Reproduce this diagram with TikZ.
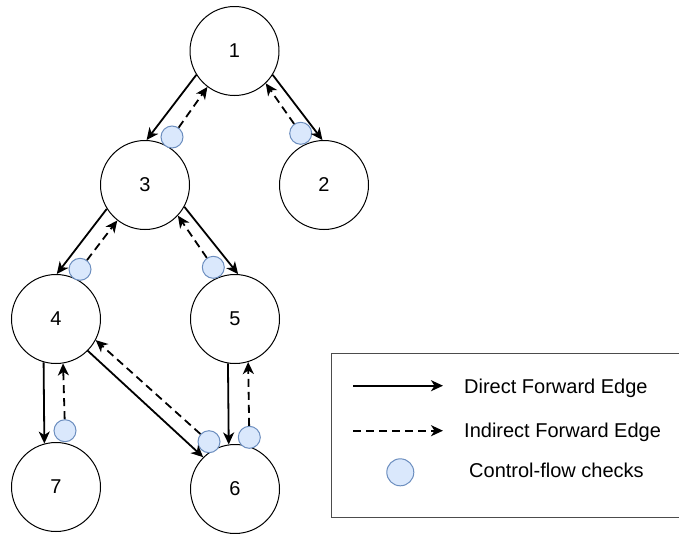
\documentclass[tikz,border=0pt]{standalone}
\usepackage{fontspec}
\setmainfont{Liberation Sans}
\usetikzlibrary{arrows.meta}
\definecolor{checkfill}{HTML}{DAE8FC}
\definecolor{checkline}{HTML}{6C8EBF}

\begin{document}
\begin{tikzpicture}[x=1pt, y=-1pt,
		block/.style={draw, circle, line width=1pt, minimum size=89pt, inner sep=0pt, font=\fontsize{20}{24}\selectfont},
		check/.style={draw=checkline, fill=checkfill, circle, line width=1pt, minimum size=22pt, inner sep=0pt},
		direct/.style={line width=1.8pt, -{Stealth[length=12pt, width=11pt, inset=3.5pt]}},
		indirect/.style={direct, dash pattern=on 8pt off 5pt},
		legtext/.style={anchor=base west, inner sep=0pt, font=\fontsize{20}{24}\selectfont}]
		\useasboundingbox (0,0) rectangle (679,533);
		\clip (0,0) rectangle (679,533);
		
		% blocks
		\node[block] (n1) at (234.5, 51) {1};
		\node[block] (n2) at (324, 185) {2};
		\node[block] (n3) at (145, 185) {3};
		\node[block] (n4) at (56, 319) {4};
		\node[block] (n5) at (235, 319) {5};
		\node[block] (n7) at (56, 487) {7};
		\node[block] (n6) at (235, 489) {6};
		
		% control-flow checks
		\node[check] (c13) at (172, 137) {};
		\node[check] (c12) at (300.7, 133.3) {};
		\node[check] (c34) at (80, 269.3) {};
		\node[check] (c35) at (213.3, 267.3) {};
		\node[check] (c47) at (65, 430.7) {};
		\node[check] (c46) at (209, 441.7) {};
		\node[check] (c56) at (249.3, 437.3) {};
		
		% direct forward edges
		\draw[direct] (n1.212) -- (n3.88);
		\draw[direct] (n1.-32) -- (n2.92);
		\draw[direct] (n3.212) -- (n4.89);
		\draw[direct] (n3.-29) -- (n5.86);
		\draw[direct] (n4.254) -- (n7.105);
		\draw[direct] (n4.-45) -- (n6.135);
		\draw[direct] (n5.261) -- (n6.98);
		
		% indirect forward edges
		\draw[indirect] (c13) -- (n1.233);
		\draw[indirect] (c12) -- (n1.-46);
		\draw[indirect] (c34) -- (n3.232);
		\draw[indirect] (c35) -- (n3.-43);
		\draw[indirect] (c47) -- (n4.-81);
		\draw[indirect] (c46) -- (n4.-28);
		\draw[indirect] (c56) -- (n5.-73);
		
		% legend
		\draw[line width=1.3pt, black!70] (331.7, 353.3) rectangle (700, 517.3);
		\coordinate (d1) at (353, 385.7);
		\coordinate (d2) at (443, 385.7);
		\coordinate (i1) at (353, 430.7);
		\coordinate (i2) at (443, 430.7);
		\draw[direct] (d1) -- (d2);
		\draw[indirect] (i1) -- (i2);
		\node[check, minimum size=27pt] (cl) at (400.3, 472.3) {};
		\node[legtext] (tdirect) at (464, 393.3) {Direct Forward Edge};
		\node[legtext] (tindirect) at (464, 437.3) {Indirect Forward Edge};
		\node[legtext] (tcheck) at (469, 477.3) {Control-flow checks};
\end{tikzpicture}
\end{document}
